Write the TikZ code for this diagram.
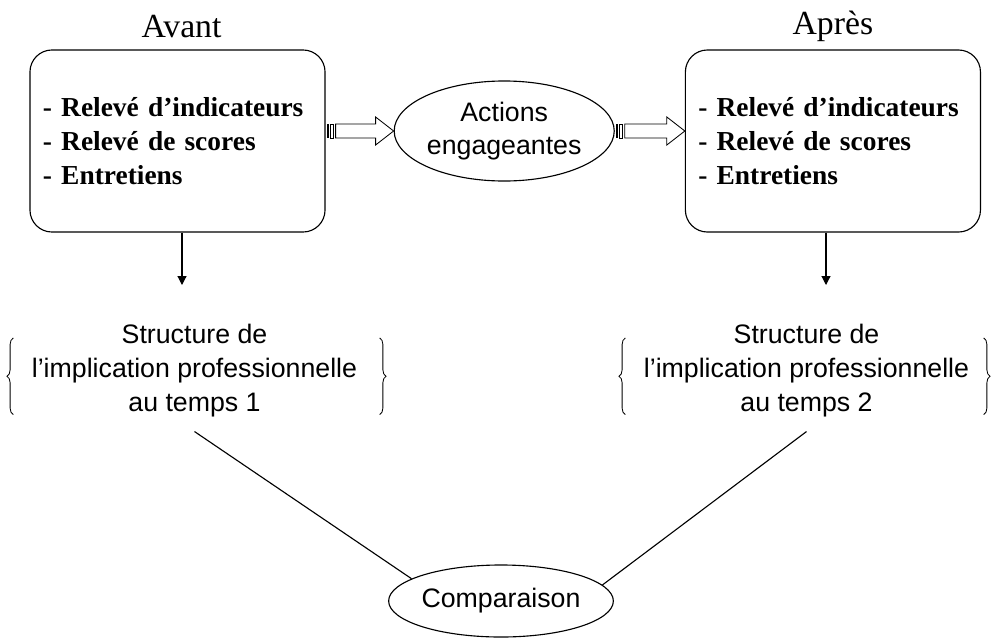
\documentclass[tikz,border=0pt]{standalone}
\usepackage{fontspec}
\setmainfont{Liberation Serif}
\setsansfont{Liberation Sans}
\usepackage{tikz}
\usetikzlibrary{arrows.meta,decorations.pathreplacing,shapes.geometric,positioning,calc}
\tikzstyle{every picture}+=[font=\sffamily]

% striped block arrow, tail #1, tip #2 (same height)
\newcommand{\stripearrow}[2]{%
	\path (#1) coordinate (sa) (#2) coordinate (sb);
	\fill ($(sa)+(1,-7)$) rectangle ($(sa)+(3.5,7)$);
	\draw [line width=0.6pt] ($(sa)+(5,-7)$) rectangle ($(sa)+(8,7)$);
	\draw [line width=0.6pt] ($(sa)+(10,-7)$) -- ($(sb)+(-18,-7)$) -- ($(sb)+(-18,-14)$) -- (sb)
		-- ($(sb)+(-18,14)$) -- ($(sb)+(-18,7)$) -- ($(sa)+(10,7)$) -- cycle;
}

\begin{document}
\begin{tikzpicture}
			[x=0.025cm, y=-0.025cm, font=\sffamily, line width=0.8pt,
			box/.style			= {draw, rectangle, rounded corners=5.5mm, minimum width=73.75mm, minimum height=45.5mm, text width=67.25mm, inner sep=3.25mm, align=left, font=\rmfamily\bfseries\fontsize{19.5}{24}\selectfont},
			title/.style		= {inner sep=0pt, anchor=base, font=\rmfamily\fontsize{24}{28}\selectfont},
			bubble/.style		= {draw, ellipse, inner sep=0pt, align=center, font=\sffamily\fontsize{19}{24}\selectfont},
			struct/.style		= {inner sep=0pt, align=center, font=\sffamily\fontsize{19}{24}\selectfont},
			accolade/.style		= {decorate, decoration={brace, amplitude=1.6mm}, line width=0.6pt},
			down/.style			= {-{Triangle[length=2.2mm, width=2.2mm]}}]
			
			\useasboundingbox (0,0) rectangle (992,639);
			
			\node [box]		at (177.5,141)						(1)	{- Relevé d’indicateurs\\- Relevé de scores\\- Entretiens};
			\node [bubble, minimum width=55mm, minimum height=25mm]
							[right = 17mm of 1, yshift=2.5mm]	(2)	{Actions\\engageantes};
			\node [box]		[right = 17.5mm of 2, yshift=-2.5mm]	(3)	{- Relevé d’indicateurs\\- Relevé de scores\\- Entretiens};
			
			\node [title]	at ([xshift=1mm, yshift=3mm]1.north)		(t1) {Avant};
			\node [title]	at ([yshift=3.75mm]3.north)					(t3) {Après};
			
			\node [struct, anchor=north] at (194.5,324)			(4)	{Structure de\\l’implication professionnelle\\au temps 1};
			\node [struct, anchor=north] at (806.5,324)			(5)	{Structure de\\l’implication professionnelle\\au temps 2};
			
			\node [bubble, minimum width=45mm, minimum height=18mm] at (501,601) (6) {Comparaison};
			
			\stripearrow{1.east |- 2.west}{2.west}
			\stripearrow{2.east}{3.west |- 2.east}
			
			\coordinate (a1) at (182,285);
			\coordinate (a3) at (826,285);
			\draw [down] (1.south -| a1) -- (a1);
			\draw [down] (3.south -| a3) -- (a3);
			
			\draw [accolade] ([xshift=-4.5mm, yshift=0.75mm]4.south west) -- ([xshift=-4.5mm, yshift=-3.5mm]4.north west);
			\draw [accolade] ([xshift=5.5mm, yshift=-3.5mm]4.north east) -- ([xshift=5.5mm, yshift=0.75mm]4.south east);
			\draw [accolade] ([xshift=-4.5mm, yshift=0.75mm]5.south west) -- ([xshift=-4.5mm, yshift=-3.5mm]5.north west);
			\draw [accolade] ([xshift=3.5mm, yshift=-3.5mm]5.north east) -- ([xshift=3.5mm, yshift=0.75mm]5.south east);
			
			\coordinate [below = 3.5mm of 4] (c1);
			\coordinate [below = 3.5mm of 5] (c2);
			\draw (c1) -- (6.166);
			\draw (c2) -- (6.9);
			\end{tikzpicture}
\end{document}
